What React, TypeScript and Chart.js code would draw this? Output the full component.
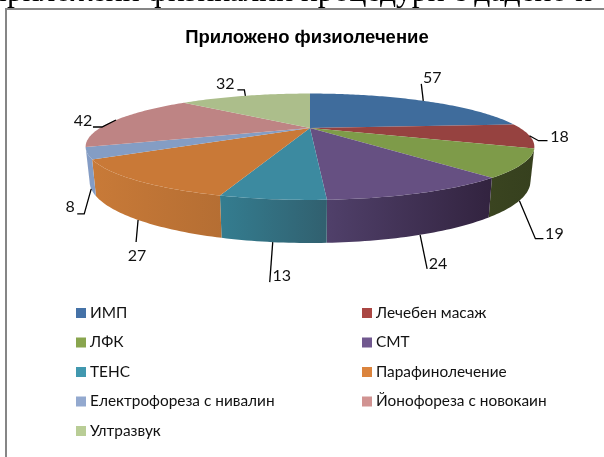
import React, { useEffect, useRef } from "react";
import { Chart, registerables } from "chart.js";

Chart.register(...registerables);

const categories = ["ИМП", "Лечебен масаж", "ЛФК", "СМТ", "ТЕНС", "Парафинолечение", "Електрофореза с нивалин", "Йонофореза с новокаин", "Ултразвук"];
const seriesValues = [57, 18, 19, 24, 13, 27, 8, 42, 32];
const legendColors = ["#4572A7", "#AA4643", "#89A54E", "#71588F", "#4198AF", "#DB843D", "#93A9CF", "#D19392", "#B9CD96"];
const topColors = ["#3F6C9C", "#964240", "#7E9B49", "#665082", "#3C8AA0", "#C97937", "#849DC4", "#BE8484", "#ACBE8B"];
const wallLight = ["#34587F", "#7A3533", "#3A4420", "#50406A", "#347D90", "#C87A38", "#839CC5", "#A06C6C", "#8E9D72"];
const wallDark = ["#34587F", "#7A3533", "#36401E", "#32233F", "#31606F", "#B56E33", "#839CC5", "#A06C6C", "#8E9D72"];
const titleText = "Приложено физиолечение";
const clippedHeading = "приложени физикални процедури с дадено н";

// Perspective of the pie: the disc is projected onto the page.
const APEX_X = 310;
const TOP = { a: 210, b: 46.6, k: 0.352, y0: 128 };
const BOTTOM = { a: 206.3, b: 54, k: 0.352, y0: 159.7 };

// Leader-line elbows relative to the anchor on the rim, and the text position relative to the last elbow.
const leaders: number[][][] = [
  [[-2, -17]],
  [[9, 5], [18, 5]],
  [[16, 38], [24, 38]],
  [[7, 34]],
  [[-3, 40]],
  [[-2, 22]],
  [[-7, 25], [-14, 25]],
  [[-14, 7], [-23, 7]],
  [[-1, -6], [-8, -6]],
];
const labelOffset: number[][] = [
  [11, -6], [12, -4], [11, -5], [11, -5], [12, -6], [1, 14], [-7, -7], [-10, -6], [-12, -6],
];
const onBottomRim = [false, false, true, true, true, true, true, false, false];

type Face = { a: number; b: number; k: number; y0: number };
const project = (f: Face, theta: number) => {
  const u = Math.sin(theta);
  const v = -Math.cos(theta);
  const w = 1 - f.k * v;
  return { x: APEX_X + (f.a * u) / w, y: f.y0 + (f.b * v) / w };
};
const toTheta = (angle: number) => angle + Math.PI / 2;

const pie3d = {
  id: "pie3d",
  beforeDatasetsDraw(chart: any) {
    const ctx = chart.ctx as CanvasRenderingContext2D;
    const arcs = chart.getDatasetMeta(0).data as any[];
    const STEP = Math.PI / 180;
    // only the part of the rim that faces the viewer has a visible wall
    const frontStart = Math.acos(-TOP.k);
    const frontEnd = 2 * Math.PI - frontStart;

    arcs.forEach((arc, i) => {
      const s = Math.max(toTheta(arc.startAngle), frontStart);
      const e = Math.min(toTheta(arc.endAngle), frontEnd);
      if (e <= s) return;
      const n = Math.max(2, Math.ceil((e - s) / STEP));
      const upper: { x: number; y: number }[] = [];
      const lower: { x: number; y: number }[] = [];
      for (let j = 0; j <= n; j++) {
        const t = s + ((e - s) * j) / n;
        upper.push(project(TOP, t));
        lower.push(project(BOTTOM, t));
      }
      const xs = upper.concat(lower).map((p) => p.x);
      const g = ctx.createLinearGradient(Math.min(...xs), 0, Math.max(...xs), 0);
      g.addColorStop(0, wallLight[i]);
      g.addColorStop(1, wallDark[i]);
      ctx.beginPath();
      upper.forEach((p, j) => (j ? ctx.lineTo(p.x, p.y) : ctx.moveTo(p.x, p.y)));
      lower.reverse().forEach((p) => ctx.lineTo(p.x, p.y));
      ctx.closePath();
      ctx.fillStyle = g;
      ctx.fill();
    });

    arcs.forEach((arc, i) => {
      const s = toTheta(arc.startAngle);
      const e = toTheta(arc.endAngle);
      const n = Math.max(2, Math.ceil((e - s) / STEP));
      ctx.beginPath();
      ctx.moveTo(APEX_X, TOP.y0);
      for (let j = 0; j <= n; j++) {
        const p = project(TOP, s + ((e - s) * j) / n);
        ctx.lineTo(p.x, p.y);
      }
      ctx.closePath();
      ctx.fillStyle = topColors[i];
      ctx.fill();
    });
    return false;
  },
  afterDraw(chart: any) {
    const ctx = chart.ctx as CanvasRenderingContext2D;
    const arcs = chart.getDatasetMeta(0).data as any[];

    // frame
    ctx.save();
    ctx.strokeStyle = "#868686";
    ctx.lineWidth = 2;
    ctx.beginPath();
    ctx.moveTo(6, 457);
    ctx.lineTo(6, 9);
    ctx.lineTo(604, 9);
    ctx.stroke();
    ctx.restore();

    // value labels with leader lines
    ctx.save();
    ctx.font = '16px Lato, "Open Sans", sans-serif';
    ctx.textAlign = "center";
    ctx.textBaseline = "middle";
    arcs.forEach((arc, i) => {
      const mid = toTheta((arc.startAngle + arc.endAngle) / 2);
      const a = project(onBottomRim[i] ? BOTTOM : TOP, mid);
      ctx.strokeStyle = "#000";
      ctx.lineWidth = 1.3;
      ctx.beginPath();
      ctx.moveTo(a.x, a.y);
      let last = a;
      leaders[i].forEach(([dx, dy]) => {
        last = { x: a.x + dx, y: a.y + dy };
        ctx.lineTo(last.x, last.y);
      });
      ctx.stroke();
      ctx.fillStyle = "#111";
      ctx.fillText(String(seriesValues[i]), last.x + labelOffset[i][0], last.y + labelOffset[i][1]);
    });
    ctx.restore();

    // two-column legend
    ctx.save();
    ctx.font = '15.4px Lato, "Open Sans", sans-serif';
    ctx.textBaseline = "middle";
    ctx.textAlign = "left";
    categories.forEach((name, i) => {
      const col = i % 2;
      const row = Math.floor(i / 2);
      const x = col ? 362 : 76;
      const y = 313 + row * 29.5;
      ctx.fillStyle = legendColors[i];
      ctx.fillRect(x, y - 5, 10, 10);
      ctx.fillStyle = "#111";
      ctx.fillText(name, x + 14, y);
    });
    ctx.restore();
  },
};

export default function App() {
  const ref = useRef<HTMLCanvasElement>(null);
  useEffect(() => {
    const chart = new Chart(ref.current!, {
      type: "pie",
      data: {
        labels: categories,
        datasets: [{ data: seriesValues, backgroundColor: legendColors, borderWidth: 0 }],
      },
      options: {
        responsive: false,
        animation: false,
        layout: { padding: { top: 27, left: 10 } },
        plugins: {
          legend: { display: false },
          tooltip: { enabled: false },
          title: {
            display: true,
            text: titleText,
            color: "#000",
            font: { family: '"Liberation Sans", Arial, sans-serif', size: 18.5, weight: "bold" },
            padding: 0,
          },
        },
      },
      plugins: [pie3d],
    } as any);
    return () => chart.destroy();
  }, []);
  return (
    <div style={{ position: "fixed", left: 0, top: 0, width: 604, height: 457, overflow: "hidden", background: "#fff" }}>
      <canvas ref={ref} width={604} height={457} style={{ display: "block" }} />
      <div
        style={{
          position: "absolute",
          left: -10,
          top: -27,
          whiteSpace: "nowrap",
          fontFamily: '"Liberation Serif", serif',
          fontSize: 31.6,
          color: "#000",
        }}
      >
        {clippedHeading}
      </div>
    </div>
  );
}
